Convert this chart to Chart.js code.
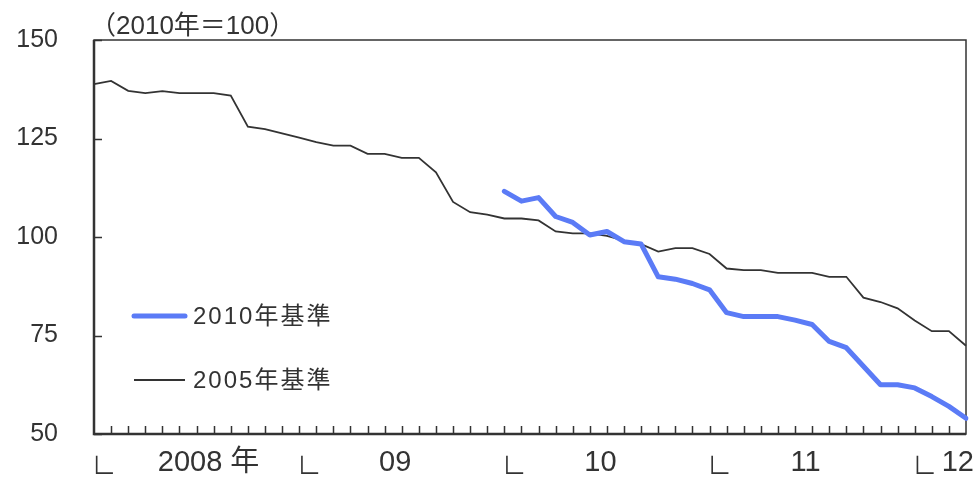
<!DOCTYPE html>
<html>
<head>
<meta charset="utf-8">
<script src="https://cdn.jsdelivr.net/npm/chart.js@4.4.1/dist/chart.umd.min.js"></script>
<style>
  html, body { margin: 0; padding: 0; background: #fff; }
  #wrap { position: relative; width: 978px; height: 486px; }
</style>
</head>
<body>
<div id="wrap"><canvas id="line-chart" width="978" height="486"></canvas></div>
<script>
// months 2008/01 .. 2012/04
const months = [
  "2008-01","2008-02","2008-03","2008-04","2008-05","2008-06","2008-07","2008-08","2008-09","2008-10","2008-11","2008-12",
  "2009-01","2009-02","2009-03","2009-04","2009-05","2009-06","2009-07","2009-08","2009-09","2009-10","2009-11","2009-12",
  "2010-01","2010-02","2010-03","2010-04","2010-05","2010-06","2010-07","2010-08","2010-09","2010-10","2010-11","2010-12",
  "2011-01","2011-02","2011-03","2011-04","2011-05","2011-06","2011-07","2011-08","2011-09","2011-10","2011-11","2011-12",
  "2012-01","2012-02","2012-03","2012-04"
];

const base2005 = [
  138.8, 139.6, 137.1, 136.5, 137.0, 136.5, 136.5, 136.5, 135.9, 128.0, 127.4, 126.3,
  125.2, 124.1, 123.2, 123.2, 121.1, 121.1, 120.1, 120.1, 116.4, 108.9, 106.3, 105.7,
  104.7, 104.7, 104.2, 101.4, 100.9, 100.9, 100.3, 99.1, 98.2, 96.3, 97.2, 97.2,
  95.7, 92.0, 91.6, 91.6, 90.9, 90.9, 90.9, 89.9, 89.9, 84.6, 83.5, 81.9,
  78.8, 76.1, 76.1, 72.4
];

// starts 2010-01
const base2010 = [
  null, null, null, null, null, null, null, null, null, null, null, null,
  null, null, null, null, null, null, null, null, null, null, null, null,
  111.6, 109.1, 110.0, 105.2, 103.7, 100.5, 101.4, 98.8, 98.2, 89.9, 89.3, 88.2,
  86.6, 80.8, 79.8, 79.8, 79.8, 78.9, 77.8, 73.5, 71.9, 67.2, 62.5, 62.5,
  61.7, 59.5, 57.0, 54.0
];

const yearLabels = ["2008 年", "09", "10", "11", "12"];
const yearNums = ["2008", "09", "10", "11", "12"];
const yTicks = [50, 75, 100, 125, 150];
const unitText = "（2010年＝100）";

const ink = "#333333";
const blue = "#5b7bf6";
const numFont = "'Liberation Sans', 'Noto Sans CJK JP', sans-serif";

const framePlugin = {
  id: "frame",
  beforeDatasetsDraw(chart) {
    const { ctx, chartArea: a, scales } = chart;
    const x = scales.x, y = scales.y;
    ctx.save();
    ctx.strokeStyle = ink;
    // frame
    ctx.lineWidth = 1.5;
    ctx.strokeRect(a.left, a.top, a.right - a.left, a.bottom - a.top);
    ctx.lineWidth = 2.5;
    ctx.beginPath();
    ctx.moveTo(a.left, a.top);
    ctx.lineTo(a.left, a.bottom);
    ctx.lineTo(a.right, a.bottom);
    ctx.stroke();
    // inward ticks
    ctx.lineWidth = 1.5;
    ctx.beginPath();
    for (let i = 1; i < months.length - 1; i++) {
      const px = Math.round(x.getPixelForValue(i)) + 0.5;
      ctx.moveTo(px, a.bottom);
      ctx.lineTo(px, a.bottom - 8);
    }
    yTicks.forEach(v => {
      const py = Math.round(y.getPixelForValue(v)) + 0.5;
      ctx.moveTo(a.left, py);
      ctx.lineTo(a.left + 8, py);
    });
    ctx.stroke();
    ctx.restore();
  },
  afterDraw(chart) {
    const { ctx, chartArea: a, scales } = chart;
    const x = scales.x;
    ctx.save();
    ctx.fillStyle = ink;
    ctx.textBaseline = "middle";

    // year markers and labels
    yearLabels.forEach((lab, i) => {
      const start = i * 12;
      const sx = x.getPixelForValue(start);
      ctx.font = "24px 'Noto Sans CJK JP', sans-serif";
      ctx.textAlign = "left";
      ctx.fillText("∟", sx - 2, 465);

      ctx.font = "29px " + numFont;
      const wNum = ctx.measureText(yearNums[i]).width;
      const wAll = ctx.measureText(lab).width;
      const cx = x.getPixelForValue(start + 5.5) + 2;
      let left = cx - wNum / 2;
      if (left + wAll > chart.width - 4) left = chart.width - 4 - wAll;
      ctx.fillText(lab, left, 463);
    });

    // unit
    ctx.font = "26px " + numFont;
    ctx.textAlign = "left";
    ctx.textBaseline = "alphabetic";
    ctx.fillText(unitText, a.left - 4, 34);

    // legend
    const items = chart.data.datasets.map((d, i) => ({
      label: d.label, color: d.borderColor, width: d.borderWidth, y: 316 + i * 64
    }));
    items.forEach(it => {
      ctx.strokeStyle = it.color;
      ctx.lineWidth = it.width;
      ctx.lineCap = it.width > 3 ? "round" : "butt";
      ctx.beginPath();
      ctx.moveTo(134, it.y);
      ctx.lineTo(185, it.y);
      ctx.stroke();
      ctx.font = "24px " + numFont;
      ctx.letterSpacing = "2px";
      ctx.textBaseline = "middle";
      ctx.fillText(it.label, 193, it.y + 1);
      ctx.letterSpacing = "0px";
    });
    ctx.restore();
  }
};

const ctx = document.getElementById("line-chart").getContext("2d");
window.myLine = new Chart(ctx, {
  type: "line",
  data: {
    labels: months,
    datasets: [
      {
        label: "2010年基準",
        data: base2010,
        borderColor: blue,
        backgroundColor: blue,
        borderWidth: 5,
        borderCapStyle: "round",
        borderJoinStyle: "round",
        pointRadius: 0,
        spanGaps: false,
        tension: 0
      },
      {
        label: "2005年基準",
        data: base2005,
        borderColor: ink,
        backgroundColor: ink,
        borderWidth: 1.8,
        pointRadius: 0,
        tension: 0
      }
    ]
  },
  options: {
    responsive: false,
    animation: false,
    layout: { padding: { top: 40, right: 12, left: 0, bottom: 0 } },
    plugins: { legend: { display: false }, tooltip: { enabled: false } },
    scales: {
      x: {
        type: "category",
        offset: false,
        grid: { display: false, drawTicks: false },
        border: { display: false },
        ticks: { display: false },
        afterFit(s) { s.height = 52; s.paddingLeft = 0; s.paddingRight = 0; }
      },
      y: {
        min: 50,
        max: 150,
        afterBuildTicks(s) { s.ticks = yTicks.map(v => ({ value: v })); },
        grid: { display: false, drawTicks: false },
        border: { display: false },
        ticks: {
          color: ink,
          padding: 36,
          font: { family: numFont, size: 25 }
        },
        afterFit(s) { s.width = 94; s.paddingTop = 0; s.paddingBottom = 0; }
      }
    }
  },
  plugins: [framePlugin]
});
</script>
</body>
</html>
